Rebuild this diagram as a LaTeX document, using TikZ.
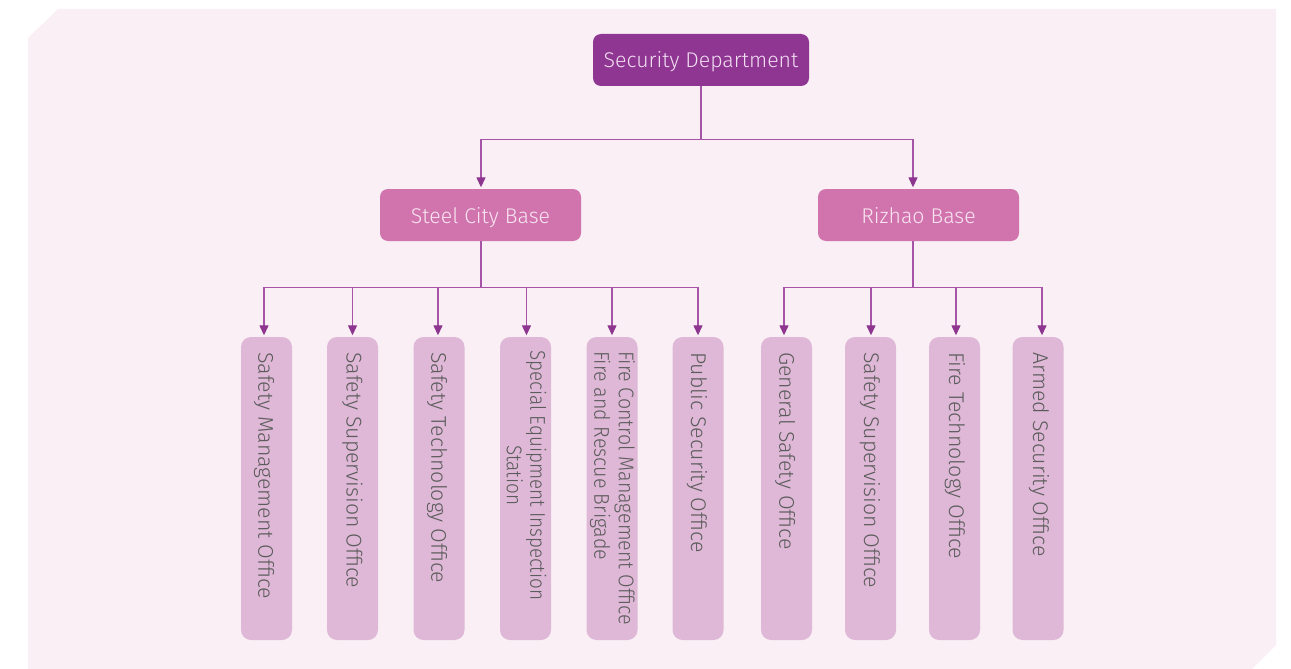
\documentclass[tikz,border=0pt]{standalone}
\usepackage{fontspec}
\setmainfont{Fira Sans}[UprightFont=* Light]
\newfontfamily\condA{Fira Sans}[UprightFont=* Light, FakeStretch=0.885]
\newfontfamily\condB{Fira Sans}[UprightFont=* Light, FakeStretch=0.92]
\usetikzlibrary{arrows.meta}
\definecolor{bgpink}{HTML}{F9EFF5}
\definecolor{topc}{HTML}{8F3592}
\definecolor{midc}{HTML}{D174AE}
\definecolor{botc}{HTML}{DEB8D6}
\definecolor{linec}{HTML}{A654A8}
\definecolor{arrowc}{HTML}{8E3590}
\definecolor{bottext}{HTML}{5C5C5C}
\definecolor{midtext}{HTML}{F7E4F0}
\definecolor{toptext}{HTML}{F0DDF0}
\tikzset{
  topbox/.style={fill=topc, rounded corners=8pt, minimum width=216pt, minimum height=52pt, text=toptext, font=\fontsize{21.3}{25}\selectfont, inner sep=0pt, text height=14.7pt, text depth=0pt},
  midbox/.style={fill=midc, rounded corners=8pt, minimum width=201pt, minimum height=52pt, text=midtext, font=\fontsize{21.3}{25}\selectfont, inner sep=0pt, text height=14.7pt, text depth=0pt},
  botbox/.style={fill=botc, rounded corners=10pt, minimum width=51pt, minimum height=303pt, inner sep=0pt},
  lbl/.style={rotate=-90, anchor=west, text=bottext, font=\fontsize{21.3}{25}\selectfont, inner sep=0pt},
  conn/.style={draw=linec, line width=1.3pt, -{Triangle[width=9pt,length=10pt,color=arrowc]}, shorten >=1.5pt}
}
\begin{document}
\begin{tikzpicture}[x=1pt,y=-1pt]
\useasboundingbox (0,0) rectangle (1291,669);
\fill[bgpink] (28,38) -- (58,9) -- (1276,9) -- (1276,645) -- (1252,669) -- (28,669) -- cycle;

\node[topbox] (sd) at (701,60) {Security Department};
\node[midbox] (scb) at (480.5,215) {\raisebox{-1.5pt}{Steel City Base}};
\node[midbox] (rzb) at (918.5,215) {\raisebox{-1.5pt}{Rizhao Base}};

\node[botbox] (b1) at (266.5,488.5) {};
\node[botbox] (b2) at (352.5,488.5) {};
\node[botbox] (b3) at (439,488.5) {};
\node[botbox] (b4) at (525.5,488.5) {};
\node[botbox] (b5) at (612,488.5) {};
\node[botbox] (b6) at (698,488.5) {};
\node[botbox] (b7) at (786.5,488.5) {};
\node[botbox] (b8) at (870.5,488.5) {};
\node[botbox] (b9) at (954.5,488.5) {};
\node[botbox] (b10) at (1038,488.5) {};

\node[lbl] (l1) at (264,352) {Safety Management Office};
\node[lbl] (l2) at (352.5,352) {Safety Supervision Office};
\node[lbl] (l3) at (437,352) {Safety Technology Office};
\node[lbl, align=center, font=\condA\fontsize{21.3}{23.5}\selectfont] (l4) at (526.5,350) {Special Equipment Inspection\\Station};
\node[lbl, align=left, font=\condB\fontsize{21.3}{24.5}\selectfont] (l5) at (612.5,351) {Fire Control Management Office\\Fire and Rescue Brigade};
\node[lbl] (l6) at (697,352) {Public Security Office};
\node[lbl] (l7) at (785,352) {General Safety Office};
\node[lbl] (l8) at (870,352) {Safety Supervision Office};
\node[lbl] (l9) at (955,352) {Fire Technology Office};
\node[lbl] (l10) at (1039,352) {Armed Security Office};

\draw[conn] (sd.south) -- ++(0,53) -| ([xshift=0.5pt]scb.north);
\draw[conn] (sd.south) -- ++(0,53) -| ([xshift=-5.5pt]rzb.north);

\draw[conn] ([xshift=0.5pt]scb.south) -- ++(0,46) -| ([xshift=-2.5pt]b1.north);
\draw[conn] ([xshift=0.5pt]scb.south) -- ++(0,46) -| (b2.north);
\draw[conn] ([xshift=0.5pt]scb.south) -- ++(0,46) -| ([xshift=-1pt]b3.north);
\draw[conn] ([xshift=0.5pt]scb.south) -- ++(0,46) -| ([xshift=1pt]b4.north);
\draw[conn] ([xshift=0.5pt]scb.south) -- ++(0,46) -| (b5.north);
\draw[conn] ([xshift=0.5pt]scb.south) -- ++(0,46) -| (b6.north);

\draw[conn] ([xshift=-5.5pt]rzb.south) -- ++(0,46) -| ([xshift=-2.5pt]b7.north);
\draw[conn] ([xshift=-5.5pt]rzb.south) -- ++(0,46) -| ([xshift=0.5pt]b8.north);
\draw[conn] ([xshift=-5.5pt]rzb.south) -- ++(0,46) -| ([xshift=1.5pt]b9.north);
\draw[conn] ([xshift=-5.5pt]rzb.south) -- ++(0,46) -| ([xshift=4pt]b10.north);
\end{tikzpicture}
\end{document}
